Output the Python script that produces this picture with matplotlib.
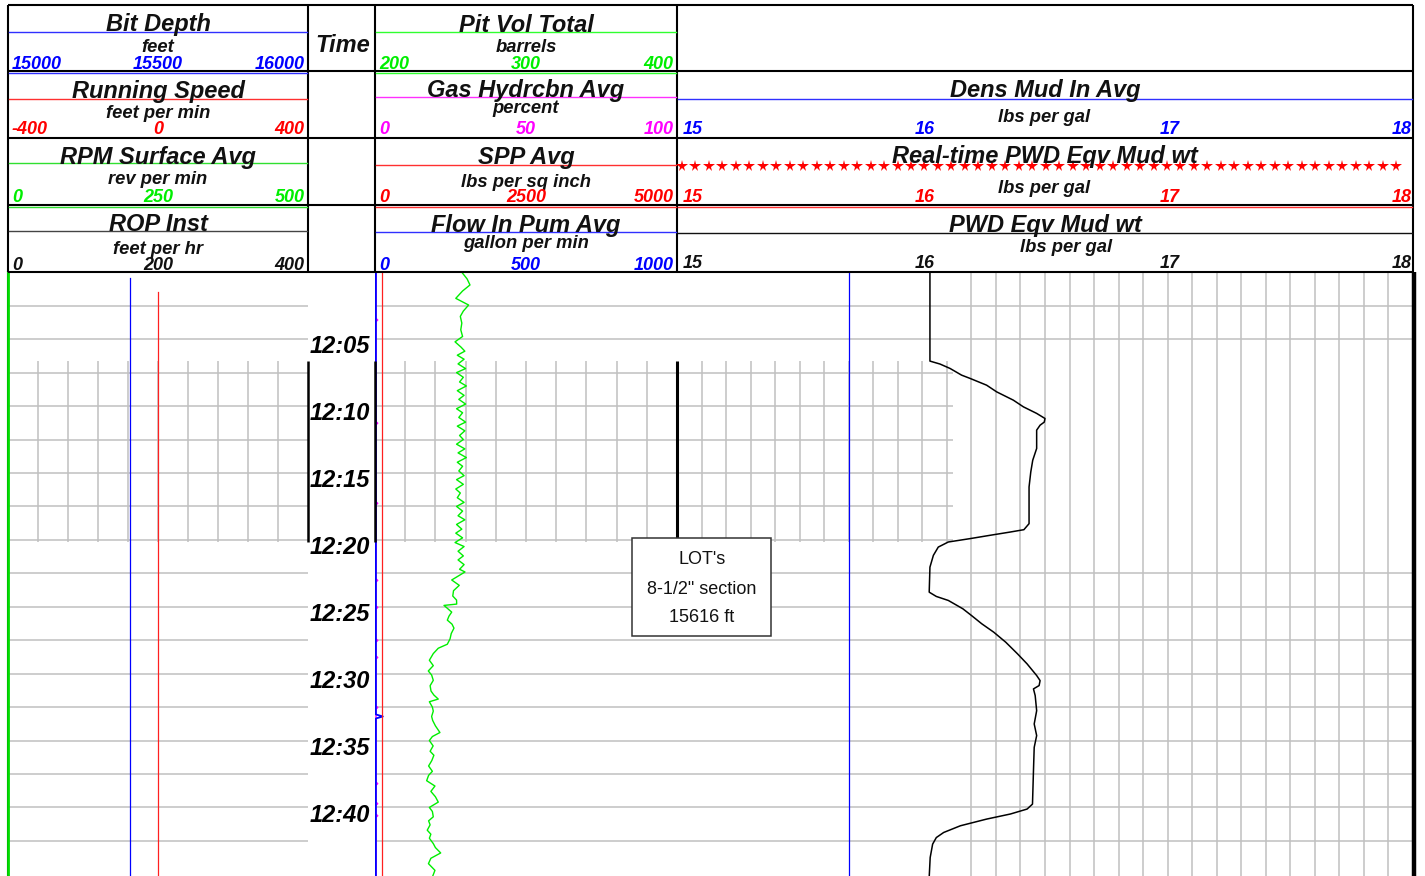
import numpy as np
import matplotlib
matplotlib.use('Agg')
import matplotlib.pyplot as plt
from matplotlib.patches import Rectangle

plt.rcParams['font.family'] = ['Liberation Sans', 'DejaVu Sans']

# ------------------------------------------------------------------ data
# time in minutes after 12:00
bit_depth_time = [0.45, 45.2]
bit_depth_ft = [15406, 15406]
run_speed_time = [1.45, 45.2]
run_speed_fpm = [0, 0]
rpm_time = [0.0, 45.2]
rpm_val = [0, 0]
rop_time = [0.0, 45.2]
rop_val = [0, 0]

flow_time = [0.0, 33.05, 33.2, 33.35, 45.2]
flow_gpm = [3, 3, 26, 3, 3]
spp_time = [0.0, 45.2]
spp_psi = [116, 116]
gas_time = [0.0, 3.45, 3.57, 3.69, 11.16, 11.28, 11.4, 17.15, 17.27, 17.39,
            22.91, 23.03, 23.15, 24.93, 25.05, 25.17, 27.4, 27.52, 27.64,
            28.67, 28.79, 28.91, 32.41, 32.53, 32.65, 38.1, 38.22, 38.34,
            39.6, 39.72, 39.84, 40.5, 40.62, 40.74, 45.2]
gas_pct = [0.33, 0.33, 0.9, 0.33, 0.33, 0.9, 0.33, 0.33, 0.9, 0.33,
           0.33, 0.9, 0.33, 0.33, 0.9, 0.33, 0.33, 0.9, 0.33,
           0.33, 0.9, 0.33, 0.33, 0.9, 0.33, 0.33, 0.9, 0.33,
           0.33, 0.9, 0.33, 0.33, 0.9, 0.33, 0.33]

pit_pts = [
    (0.0, 257.5), (0.5, 261), (0.95, 262.9), (1.4, 258), (1.95, 253.5), (2.45, 262),
    (2.9, 258.5), (3.3, 256.5), (3.8, 257.5), (4.3, 256.8), (4.8, 258), (5.2, 253),
    (5.6, 257), (5.9, 259.5),
    (6.2, 254.5), (6.5, 259), (6.85, 255), (7.2, 260), (7.5, 254), (7.85, 258.5),
    (8.2, 256), (8.5, 260.5), (8.85, 254.5), (9.2, 259), (9.5, 255.5), (9.85, 260),
    (10.2, 254), (10.5, 258), (10.85, 255.5), (11.2, 260), (11.5, 254.5), (11.85, 259.5),
    (12.2, 256), (12.5, 258.5), (12.85, 254), (13.2, 259.5), (13.5, 255), (13.85, 260.5),
    (14.2, 254.5), (14.5, 258), (14.85, 255.5), (15.2, 259), (15.5, 254), (15.85, 258.5),
    (16.2, 253.5), (16.5, 256.5), (16.85, 254.5), (17.2, 259), (17.5, 254), (17.85, 258),
    (18.2, 255), (18.5, 259.5), (18.85, 254), (19.2, 257.5), (19.5, 253.5), (19.85, 258),
    (20.2, 253), (20.5, 259), (20.85, 255), (21.2, 258.5), (21.5, 255), (21.85, 259),
    (22.2, 256),
    (22.4, 259.6), (23.0, 250.8), (23.4, 255.8), (23.8, 252), (24.2, 251.5), (24.5, 254),
    (24.8, 254.1), (24.9, 245.7), (25.4, 250.8), (25.7, 249), (26.0, 247.9), (26.3, 251),
    (26.6, 252.3), (27.0, 250.5), (27.4, 249.7), (27.8, 247.9), (28.1, 241.9), (28.5, 238.6),
    (29.0, 236.0), (29.4, 238.6), (29.8, 235.3), (30.1, 237.5), (30.5, 238.6), (30.9, 236.5),
    (31.3, 237.1), (31.6, 239), (31.9, 241.9), (32.1, 236.0), (32.5, 238), (32.8, 238.6),
    (33.2, 237.5), (33.5, 238.2), (33.9, 240), (34.4, 243.0), (34.7, 238), (35.0, 236.0),
    (35.4, 238.5), (35.8, 236.5), (36.1, 239), (36.5, 237.6), (36.9, 235.5), (37.3, 238),
    (37.6, 235.5), (38.0, 234.2), (38.4, 239.7), (38.8, 237), (39.2, 240), (39.6, 241.9),
    (40.0, 236.0), (40.3, 238), (40.7, 238.6), (41.0, 235.5), (41.3, 236.5), (41.7, 234.6),
    (42.0, 237), (42.3, 236), (42.7, 238.6), (43.0, 240), (43.4, 243.5), (43.8, 237),
    (44.2, 235.4), (44.7, 239.7), (45.2, 238),
]
pit_time = [p[0] for p in pit_pts]
pit_bbl = [p[1] for p in pit_pts]

dens_time = [0.0, 45.2]
dens_ppg = [15.70, 15.70]

pwd_pts = [
    (0.0, 16.031), (6.64, 16.031), (6.86, 16.072), (7.19, 16.113), (7.69, 16.160),
    (7.93, 16.194), (8.44, 16.262), (8.94, 16.303), (9.56, 16.371), (10.06, 16.412),
    (10.55, 16.466), (10.93, 16.500), (11.20, 16.497), (11.43, 16.480), (11.80, 16.466),
    (13.17, 16.466), (14.05, 16.450), (14.93, 16.442), (16.05, 16.435), (18.79, 16.435),
    (19.24, 16.414), (19.42, 16.357), (19.66, 16.276), (19.91, 16.194), (20.16, 16.106),
    (20.54, 16.065), (21.16, 16.045), (22.04, 16.031), (23.91, 16.028), (24.23, 16.057),
    (24.53, 16.106), (25.15, 16.165), (25.65, 16.200), (26.27, 16.242), (26.90, 16.291),
    (27.65, 16.340), (28.52, 16.388), (29.27, 16.427), (30.14, 16.466), (30.52, 16.480),
    (30.89, 16.476), (31.14, 16.453), (31.64, 16.460), (32.77, 16.466), (33.76, 16.456),
    (34.63, 16.466), (35.51, 16.456), (37.25, 16.453), (39.75, 16.449), (40.12, 16.427),
    (40.49, 16.359), (40.87, 16.262), (41.37, 16.155), (41.87, 16.087), (42.25, 16.057),
    (42.74, 16.042), (43.74, 16.032), (45.2, 16.028),
]
pwd_time = [p[0] for p in pwd_pts]
pwd_ppg = [p[1] for p in pwd_pts]

time_label_min = [5, 10, 15, 20, 25, 30, 35, 40]
time_labels = ["12:05", "12:10", "12:15", "12:20", "12:25", "12:30", "12:35", "12:40"]

lot_text = ["LOT's", "8-1/2\" section", "15616 ft"]

# ------------------------------------------------------------------ layout
W, H, DPI = 1425, 876, 100
Y_BODY = 272.25
PX_PER_MIN = 13.38
T_END = (H - Y_BODY) / PX_PER_MIN
T1 = (8, 308)
TT = (308, 375)
T2 = (375, 677)
T3 = (677, 1413)
ROWS = [5, 71, 138, 205, 272]
PATCH = (6.64, 20.15)
GRID_C = '#c0c0c0'

fig = plt.figure(figsize=(W / DPI, H / DPI), dpi=DPI, facecolor='white')


def body(xr, xlim):
    ax = fig.add_axes([xr[0] / W, 0.0, (xr[1] - xr[0]) / W, (H - Y_BODY) / H])
    ax.set_xlim(*xlim)
    ax.set_ylim(T_END, 0)
    ax.axis('off')
    return ax


def layer(ax, xlim):
    a = ax.twiny()
    a.set_xlim(*xlim)
    a.set_ylim(T_END, 0)
    a.axis('off')
    return a


grid_t = [2.5 * k for k in range(1, 18)]
tenths = [0.1 * k for k in range(1, 10)]

# ---- track 1
ax1 = body(T1, (0, 1))
ax1.hlines(grid_t, 0, 1, color=GRID_C, lw=1.1)
ax1.vlines(tenths, PATCH[0], PATCH[1], color=GRID_C, lw=1.1)
a = layer(ax1, (15000, 16000))
a.plot(bit_depth_ft, bit_depth_time, color='#0000ff', lw=0.9)
a = layer(ax1, (-400, 400))
a.plot(run_speed_fpm, run_speed_time, color='#ff2020', lw=0.9)
a = layer(ax1, (0, 400))
a.plot(rop_val, rop_time, color='black', lw=1.5, clip_on=False)
a = layer(ax1, (0, 500))
a.plot(rpm_val, rpm_time, color='#00dd00', lw=2.0, clip_on=False)

# ---- time column
axT = body(TT, (0, 1))
for tm, lab in zip(time_label_min, time_labels):
    axT.text(0.47, tm + 1.06, lab, ha='center', va='baseline', fontsize=17,
             fontweight='bold', fontstyle='italic', color='black')

# ---- track 2
ax2 = body(T2, (0, 1))
ax2.hlines(grid_t, 0, 1, color=GRID_C, lw=1.1)
ax2.vlines(tenths, PATCH[0], PATCH[1], color=GRID_C, lw=1.1)
a = layer(ax2, (200, 400))
a.plot(pit_bbl, pit_time, color='#00ee00', lw=1.0)
a = layer(ax2, (0, 100))
a.plot(gas_pct, gas_time, color='#ff00ff', lw=1.0, clip_on=False)
a = layer(ax2, (0, 1000))
a.plot(flow_gpm, flow_time, color='#0000ff', lw=1.3, clip_on=False)
a = layer(ax2, (0, 5000))
a.plot(spp_psi, spp_time, color='#ff2020', lw=0.9)

# ---- track 3
ax3 = body(T3, (15, 18))
for t in grid_t:
    xmax = 16.125 if PATCH[0] < t < PATCH[1] else 18
    ax3.hlines(t, 15, xmax, color=GRID_C, lw=1.1)
ax3.vlines([15 + 0.1 * k for k in range(1, 12)], PATCH[0], PATCH[1], color=GRID_C, lw=1.1)
ax3.vlines([16.2 + 0.1 * k for k in range(0, 18)], 0, T_END, color=GRID_C, lw=1.1)
a = layer(ax3, (15, 18))
a.plot(dens_ppg, dens_time, color='#0000ff', lw=0.9)
a.plot(pwd_ppg, pwd_time, color='black', lw=1.1)

# ------------------------------------------------------------------ header overlay
ov = fig.add_axes([0, 0, 1, 1], zorder=5)
ov.set_xlim(0, W)
ov.set_ylim(H, 0)
ov.axis('off')

# borders
for y in ROWS:
    ov.plot([T1[0], T3[1]], [y, y], color='black', lw=1.5, solid_capstyle='butt')
for x in [T1[0], TT[0], TT[1], T2[1], T3[1]]:
    ov.plot([x, x], [ROWS[0], ROWS[-1]], color='black', lw=1.5, solid_capstyle='butt')

# extra coloured lines under borders
for (x0, x1), y, c in [(T1, 72.8, '#3030ff'), (T2, 72.8, '#30ff30'),
                       (T1, 206.5, '#30e030'), (T2, 206.5, '#ff3030'), (T3, 206.5, '#ff3030')]:
    ov.plot([x0 + 1, x1 - 1], [y, y], color=c, lw=1.0)

TITLE = dict(fontsize=17, fontweight='bold', fontstyle='italic', color='#111111')
UNIT = dict(fontsize=13.2, fontweight='bold', fontstyle='italic', color='#111111')
LAB = dict(fontsize=13, fontweight='bold', fontstyle='italic')

cells = [
    # track, title, title baseline, line y, line colour, unit, unit baseline, labels, label colour, label baseline
    (T1, "Bit Depth", 31.5, 32, '#3030ff', "feet", 51.7, ["15000", "15500", "16000"], '#0000ff', 68.8),
    (T1, "Running Speed", 97.7, 98.7, '#ff3030', "feet per min", 118.3, ["-400", "0", "400"], '#ff0000', 134.5),
    (T1, "RPM Surface Avg", 164.0, 162.7, '#30e030', "rev per min", 184.3, ["0", "250", "500"], '#00ee00', 201.7),
    (T1, "ROP Inst", 231.0, 231.0, '#444444', "feet per hr", 254.3, ["0", "200", "400"], '#111111', 270.0),
    (T2, "Pit Vol Total", 31.5, 32, '#30ff30', "barrels", 51.7, ["200", "300", "400"], '#00ee00', 68.8),
    (T2, "Gas Hydrcbn Avg", 96.7, 97.3, '#ff30ff', "percent", 113.3, ["0", "50", "100"], '#ff00ff', 134.0),
    (T2, "SPP Avg", 164.0, 165.0, '#ff3030', "lbs per sq inch", 186.7, ["0", "2500", "5000"], '#ff0000', 201.7),
    (T2, "Flow In Pum Avg", 232.0, 232.3, '#3030ff', "gallon per min", 248.3, ["0", "500", "1000"], '#0000ff', 269.5),
]
for (x0, x1), title, tb, ly, lc, unit, ub, labs, labc, lb in cells:
    cx = (x0 + x1) / 2
    ov.plot([x0 + 1, x1 - 1], [ly, ly], color=lc, lw=1.0, zorder=2)
    ov.text(cx, tb, title, ha='center', va='baseline', zorder=3, **TITLE)
    ov.text(cx, ub, unit, ha='center', va='baseline', zorder=3, **UNIT)
    ov.text(x0 + 4, lb, labs[0], ha='left', va='baseline', color=labc, zorder=3, **LAB)
    ov.text(cx, lb, labs[1], ha='center', va='baseline', color=labc, zorder=3, **LAB)
    ov.text(x1 - 3.5, lb, labs[2], ha='right', va='baseline', color=labc, zorder=3, **LAB)

ov.text((TT[0] + TT[1]) / 2 + 1.5, 51.5, "Time", ha='center', va='baseline', zorder=3, **TITLE)

# track 3 header
t3_scale = ["15", "16", "17", "18"]
def px3(v):
    return T3[0] + (v - 15) / 3 * (T3[1] - T3[0])

t3_cells = [
    ("Dens Mud In Avg", 96.7, 98.7, '#3030ff', 122.3, 1044, '#0000ff', 134.0),
    ("Real-time PWD Eqv Mud wt", 163.3, None, '#ff0000', 193.3, 1044, '#ff0000', 201.7),
    ("PWD Eqv Mud wt", 231.7, 233.3, '#111111', 252.3, 1066, '#111111', 268.5),
]
for title, tb, ly, lc, ub, ux, labc, lb in t3_cells:
    cx = (T3[0] + T3[1]) / 2
    if ly is not None:
        ov.plot([T3[0] + 1, T3[1] - 1], [ly, ly], color=lc, lw=1.0, zorder=2)
    ov.text(cx, tb, title, ha='center', va='baseline', zorder=3, **TITLE)
    ov.text(ux, ub, "lbs per gal", ha='center', va='baseline', zorder=3, **UNIT)
    ov.text(T3[0] + 6, lb, t3_scale[0], ha='left', va='baseline', color=labc, zorder=3, **LAB)
    ov.text(px3(16) + 2.5, lb, t3_scale[1], ha='center', va='baseline', color=labc, zorder=3, **LAB)
    ov.text(px3(17) + 2.5, lb, t3_scale[2], ha='center', va='baseline', color=labc, zorder=3, **LAB)
    ov.text(T3[1] - 1.5, lb, t3_scale[3], ha='right', va='baseline', color=labc, zorder=3, **LAB)

# star legend line for Real-time PWD
ov.plot(np.linspace(682, 1396, 54), [165.5] * 54, ls='none', marker='*', color='#ff0000',
        ms=8.5, mew=0, zorder=2)

# body frame elements
def ty(t):
    return Y_BODY + t * PX_PER_MIN

ov.plot([T3[1] + 1, T3[1] + 1], [Y_BODY, H], color='black', lw=3.2, solid_capstyle='butt')
for x in [TT[0], TT[1]]:
    ov.plot([x, x], [ty(PATCH[0]), ty(PATCH[1])], color='black', lw=1.8, solid_capstyle='butt')

# LOT annotation
box_x0, box_x1, box_y0, box_y1 = 632.3, 771.0, 538.3, 635.7
ov.plot([677.3, 677.3], [ty(PATCH[0]), box_y0], color='black', lw=2.2, solid_capstyle='butt')
ov.add_patch(Rectangle((box_x0, box_y0), box_x1 - box_x0, box_y1 - box_y0,
                       facecolor='white', edgecolor='#333333', lw=1.1, zorder=4))
for yy, s in zip([560, 590, 617.3], lot_text):
    ov.text((box_x0 + box_x1) / 2, yy, s, ha='center', va='center', fontsize=13,
            color='#111111', zorder=5)

fig.savefig('out.png', dpi=DPI, facecolor='white')
